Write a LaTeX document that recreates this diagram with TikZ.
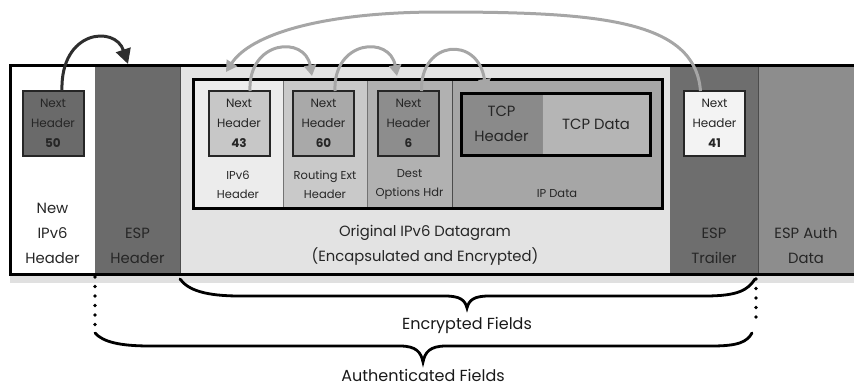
\documentclass[tikz,border=0pt]{standalone}
\usepackage{fontspec}
\setmainfont{Poppins}
\usetikzlibrary{arrows.meta}
\definecolor{txt}{HTML}{262626}
\definecolor{arrgray}{HTML}{A6A6A6}
\definecolor{arrdark}{HTML}{2E2E2E}
\definecolor{cEspH}{HTML}{6B6B6B}
\definecolor{cOrig}{HTML}{E3E3E3}
\definecolor{cEspT}{HTML}{6E6E6E}
\definecolor{cEspA}{HTML}{8D8D8D}
\definecolor{cIp6}{HTML}{ECECEC}
\definecolor{cRout}{HTML}{C9C9C9}
\definecolor{cDest}{HTML}{B1B1B1}
\definecolor{cIpd}{HTML}{A6A6A6}
\definecolor{cNhA}{HTML}{6A6A6A}
\definecolor{cNhB}{HTML}{C7C7C7}
\definecolor{cNhC}{HTML}{A9A9A9}
\definecolor{cNhD}{HTML}{8D8D8D}
\definecolor{cNhE}{HTML}{F3F3F3}
\definecolor{cTcpH}{HTML}{8A8A8A}
\definecolor{cTcpD}{HTML}{B5B5B5}
\begin{document}
\begin{tikzpicture}[x=1pt,y=-1pt,
  field/.style={rectangle, inner sep=0pt, outer sep=0pt, draw=none},
  nhbox/.style={field, draw=black!85, line width=2pt, minimum width=61pt, minimum height=65pt,
     font=\fontsize{12}{20}\selectfont, text=txt, align=center},
  lbl/.style={inner sep=0pt, align=center, text=txt, font=\fontsize{14.8}{25}\selectfont},
  sublbl/.style={inner sep=0pt, align=center, text=txt, font=\fontsize{11.5}{19}\selectfont},
  bottomlbl/.style={inner sep=0pt, text=black!90, font=\fontsize{16}{18}\selectfont},
  grayarr/.style={draw=arrgray, line width=3pt, -{Triangle[width=12pt,length=11pt]}},
  darkarr/.style={draw=arrdark, line width=3pt, -{Triangle[width=15pt,length=15pt]}},
  bracepath/.style={draw=black, line width=2.8pt, line cap=round},
  dotline/.style={draw=black, line width=3.6pt, line cap=round, dash pattern=on 0pt off 9.5pt},
  sepline/.style={draw=black!70, line width=1pt}
]
\useasboundingbox (0,0) rectangle (854,388);

% shadow under the frame
\fill[black!12] (10,274) rectangle (854,283);

% outer fields
\node[field, fill=white, minimum width=85pt, minimum height=209pt] (newip) at (52.5,169.5) {};
\node[field, fill=cEspH, minimum width=85pt, minimum height=209pt] (esph) at (137.5,169.5) {};
\node[field, fill=cOrig, minimum width=490pt, minimum height=209pt] (orig) at (425,169.5) {};
\node[field, fill=cEspT, minimum width=88pt, minimum height=209pt] (espt) at (714,169.5) {};
\node[field, fill=cEspA, minimum width=96pt, minimum height=209pt] (espa) at (806,169.5) {};
\draw[sepline] (orig.north west) -- (orig.south west);
\draw[sepline] (espa.north west) -- (espa.south west);
\draw[line width=3pt] (854,65) -- (10,65) -- (10,274) -- (854,274);

% inner datagram
\node[field, fill=cIp6, minimum width=90pt, minimum height=129pt] (ip6) at (238,143.5) {};
\node[field, fill=cRout, minimum width=84pt, minimum height=129pt] (rout) at (325,143.5) {};
\node[field, fill=cDest, minimum width=85pt, minimum height=129pt] (dest) at (409.5,143.5) {};
\node[field, fill=cIpd, minimum width=210pt, minimum height=129pt] (ipd) at (557,143.5) {};
\draw[sepline, draw=black!55] (rout.north west) -- (rout.south west);
\draw[sepline, draw=black!55] (dest.north west) -- (dest.south west);
\draw[sepline] (ipd.north west) -- (ipd.south west);
\draw[line width=3pt] (ip6.north west) rectangle (ipd.south east);

% TCP box
\node[field, fill=cTcpH, minimum width=81pt, minimum height=62pt, lbl] (tcph) at (501.5,124) {TCP\\Header};
\node[field, fill=cTcpD, minimum width=108pt, minimum height=62pt, lbl] (tcpd) at (596,124) {TCP Data};
\draw[sepline, draw=black!45] (tcpd.north west) -- (tcpd.south west);
\draw[line width=3pt] (tcph.north west) rectangle (tcpd.south east);

% next header boxes
\node[nhbox, fill=cNhA] (nh50) at (53,123.5) {Next\\Header\\\textbf{50}};
\node[nhbox, fill=cNhB] (nh43) at (239,123.5) {Next\\Header\\\textbf{43}};
\node[nhbox, fill=cNhC] (nh60) at (323.5,123.5) {Next\\Header\\\textbf{60}};
\node[nhbox, fill=cNhD] (nh6) at (408.5,123.5) {Next\\Header\\\textbf{6}};
\node[nhbox, fill=cNhE] (nh41) at (714.5,123.5) {Next\\Header\\\textbf{41}};

% inner labels
\node[sublbl] (l6) at (238,184.5) {IPv6\\Header};
\node[sublbl] (lr) at (325,184.5) {Routing Ext\\Header};
\node[sublbl] (ld) at (409.5,184.5) {Dest\\Options Hdr};
\node[sublbl] (li) at (557,194) {IP Data};

% main labels
\node[lbl] (tNew) at (52.5,233) {New\\IPv6\\Header};
\node[lbl] (tEspH) at (137.5,245.5) {ESP\\Header};
\node[lbl] (tOrig) at (425,245.5) {Original IPv6 Datagram\\(Encapsulated and Encrypted)};
\node[lbl] (tEspT) at (714,245.5) {ESP\\Trailer};
\node[lbl] (tEspA) at (806,245.5) {ESP Auth\\Data};

% arrow targets
\coordinate (espin) at (128,64);
\coordinate (routin) at (312,76);
\coordinate (destin) at (397,76);
\coordinate (tcpin) at (486,90);
\coordinate (ip6in) at (226,72);

% arrows
\draw[darkarr] ([xshift=9pt]nh50.north) .. controls (60,30) and (115,25) .. (espin);
\draw[grayarr] ([xshift=11pt]nh43.north) .. controls (248,40) and (305,35) .. (routin);
\draw[grayarr] ([xshift=11.5pt]nh60.north) .. controls (333,40) and (390,35) .. (destin);
\draw[grayarr] ([xshift=13pt]nh6.north) .. controls (420,40) and (478,35) .. (tcpin);
\draw[grayarr] ([xshift=-14pt]nh41.north) .. controls (695,20) and (600,12) .. (440,12)
   .. controls (320,12) and (250,35) .. (ip6in);

% dotted lines and braces
\coordinate (encL) at (180,279);
\coordinate (encR) at (755,279);
\coordinate (authL) at (95,333);
\coordinate (authR) at (752,333);
\coordinate (dotL) at (95,277);
\coordinate (dotR) at (756,279);
\draw[dotline] (dotL) -- (95,330);
\draw[dotline] (dotR) -- (756,326);

\draw[bracepath] (encL) .. controls (188,290) and (205,296) .. (240,296) -- (445,296)
   .. controls (460,296) and (465,300) .. (467,308)
   .. controls (469,300) and (474,296) .. (489,296) -- (705,296)
   .. controls (738,296) and (748,290) .. (encR);
\draw[bracepath] (authL) .. controls (103,342) and (120,346) .. (150,346) -- (400,346)
   .. controls (416,346) and (421,352) .. (423,362)
   .. controls (425,352) and (430,346) .. (446,346) -- (712,346)
   .. controls (738,346) and (747,342) .. (authR);

\node[bottomlbl] (tEnc) at (467,325) {Encrypted Fields};
\node[bottomlbl] (tAuth) at (423,375) {Authenticated Fields};
\end{tikzpicture}
\end{document}
